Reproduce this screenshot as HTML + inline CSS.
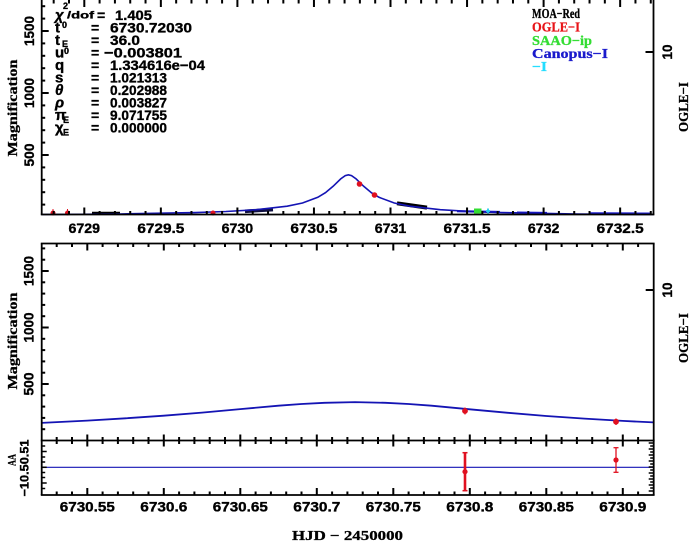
<!DOCTYPE html>
<html><head><meta charset="utf-8"><style>
html,body{margin:0;padding:0;background:#fff;}
svg{display:block;}
.s{font-family:"Liberation Sans",sans-serif;font-weight:bold;fill:#000;stroke:#000;stroke-width:0.35;}
.r{font-family:"Liberation Serif",serif;font-weight:bold;}
</style></head><body>
<svg width="689" height="542" viewBox="0 0 689 542" xmlns="http://www.w3.org/2000/svg">
<rect width="689" height="542" fill="#fff"/>

<!-- ===== TOP PANEL ===== -->
<line x1="92" y1="213.3" x2="120" y2="213.3" stroke="#000" stroke-width="3.2"/>
<line x1="245" y1="211.3" x2="273" y2="209.6" stroke="#101040" stroke-width="3.6"/>
<line x1="397" y1="203.3" x2="427" y2="207.6" stroke="#000" stroke-width="4"/>
<line x1="457" y1="211.2" x2="500" y2="212" stroke="#1a1acc" stroke-width="2.2"/>
<line x1="517" y1="212.6" x2="547" y2="213" stroke="#1a1acc" stroke-width="2.2"/>
<line x1="590" y1="213.3" x2="650" y2="213.5" stroke="#1a1acc" stroke-width="2.2"/>
<polyline fill="none" stroke="#1414b4" stroke-width="1.6" points="41.7,214.5 118.75,214 195.3,212.6 225.9,211.5 256.5,209.7 287.2,206.2 302.5,203 317.8,197.3 325.4,192.7 333.1,186.3 340.7,178.9 345.3,175.6 348.4,174.8 351.5,175.6 356.1,178.9 363.7,186.3 371.4,192.7 379,197.3 394.3,203 409.6,206.2 440.3,209.7 470.9,211.5 501.5,212.6 578,214 639.3,214.5 653.5,214.5"/>
<g fill="#e01020" stroke="#e01020" stroke-width="1">
<circle cx="53" cy="213" r="2"/><line x1="53" y1="209" x2="53" y2="214"/>
<circle cx="67.5" cy="213" r="2"/><line x1="67.5" y1="209" x2="67.5" y2="214"/>
<circle cx="213" cy="213" r="2"/>
<circle cx="359.5" cy="184" r="2.3"/>
<circle cx="374.5" cy="195" r="2.3"/>
</g>
<rect x="474" y="208.5" width="7.5" height="5" fill="#33dd33"/>
<line x1="488" y1="208.5" x2="488" y2="213.5" stroke="#22ccee" stroke-width="1.8"/>
<line x1="486" y1="211" x2="490" y2="211" stroke="#22ccee" stroke-width="1.8"/>

<line x1="41.7" y1="0" x2="41.7" y2="214.5" stroke="#000" stroke-width="1.8"/>
<line x1="653.5" y1="0" x2="653.5" y2="214.5" stroke="#000" stroke-width="1.8"/>
<line x1="40.8" y1="214.5" x2="654.4" y2="214.5" stroke="#000" stroke-width="1.8"/>

<g stroke="#000" stroke-width="2">
<!-- top axis ticks -->
<line x1="84.3" y1="0" x2="84.3" y2="7"/><line x1="160.85" y1="0" x2="160.85" y2="7"/><line x1="237.4" y1="0" x2="237.4" y2="7"/><line x1="313.95" y1="0" x2="313.95" y2="7"/><line x1="390.5" y1="0" x2="390.5" y2="7"/><line x1="467.05" y1="0" x2="467.05" y2="7"/><line x1="543.6" y1="0" x2="543.6" y2="7"/><line x1="620.15" y1="0" x2="620.15" y2="7"/>
<line x1="53.68" y1="0" x2="53.68" y2="3.5"/><line x1="68.99" y1="0" x2="68.99" y2="3.5"/><line x1="99.61" y1="0" x2="99.61" y2="3.5"/><line x1="114.92" y1="0" x2="114.92" y2="3.5"/><line x1="130.23" y1="0" x2="130.23" y2="3.5"/><line x1="145.54" y1="0" x2="145.54" y2="3.5"/><line x1="176.16" y1="0" x2="176.16" y2="3.5"/><line x1="191.47" y1="0" x2="191.47" y2="3.5"/><line x1="206.78" y1="0" x2="206.78" y2="3.5"/><line x1="222.09" y1="0" x2="222.09" y2="3.5"/><line x1="252.71" y1="0" x2="252.71" y2="3.5"/><line x1="268.02" y1="0" x2="268.02" y2="3.5"/><line x1="283.33" y1="0" x2="283.33" y2="3.5"/><line x1="298.64" y1="0" x2="298.64" y2="3.5"/><line x1="329.26" y1="0" x2="329.26" y2="3.5"/><line x1="344.57" y1="0" x2="344.57" y2="3.5"/><line x1="359.88" y1="0" x2="359.88" y2="3.5"/><line x1="375.19" y1="0" x2="375.19" y2="3.5"/><line x1="405.81" y1="0" x2="405.81" y2="3.5"/><line x1="421.12" y1="0" x2="421.12" y2="3.5"/><line x1="436.43" y1="0" x2="436.43" y2="3.5"/><line x1="451.74" y1="0" x2="451.74" y2="3.5"/><line x1="482.36" y1="0" x2="482.36" y2="3.5"/><line x1="497.67" y1="0" x2="497.67" y2="3.5"/><line x1="512.98" y1="0" x2="512.98" y2="3.5"/><line x1="528.29" y1="0" x2="528.29" y2="3.5"/><line x1="558.91" y1="0" x2="558.91" y2="3.5"/><line x1="574.22" y1="0" x2="574.22" y2="3.5"/><line x1="589.53" y1="0" x2="589.53" y2="3.5"/><line x1="604.84" y1="0" x2="604.84" y2="3.5"/><line x1="635.46" y1="0" x2="635.46" y2="3.5"/><line x1="650.77" y1="0" x2="650.77" y2="3.5"/>
<!-- top panel bottom axis ticks -->
<line x1="84.3" y1="214.5" x2="84.3" y2="207.5"/><line x1="160.85" y1="214.5" x2="160.85" y2="207.5"/><line x1="237.4" y1="214.5" x2="237.4" y2="207.5"/><line x1="313.95" y1="214.5" x2="313.95" y2="207.5"/><line x1="390.5" y1="214.5" x2="390.5" y2="207.5"/><line x1="467.05" y1="214.5" x2="467.05" y2="207.5"/><line x1="543.6" y1="214.5" x2="543.6" y2="207.5"/><line x1="620.15" y1="214.5" x2="620.15" y2="207.5"/>
<line x1="53.68" y1="214.5" x2="53.68" y2="211"/><line x1="68.99" y1="214.5" x2="68.99" y2="211"/><line x1="99.61" y1="214.5" x2="99.61" y2="211"/><line x1="114.92" y1="214.5" x2="114.92" y2="211"/><line x1="130.23" y1="214.5" x2="130.23" y2="211"/><line x1="145.54" y1="214.5" x2="145.54" y2="211"/><line x1="176.16" y1="214.5" x2="176.16" y2="211"/><line x1="191.47" y1="214.5" x2="191.47" y2="211"/><line x1="206.78" y1="214.5" x2="206.78" y2="211"/><line x1="222.09" y1="214.5" x2="222.09" y2="211"/><line x1="252.71" y1="214.5" x2="252.71" y2="211"/><line x1="268.02" y1="214.5" x2="268.02" y2="211"/><line x1="283.33" y1="214.5" x2="283.33" y2="211"/><line x1="298.64" y1="214.5" x2="298.64" y2="211"/><line x1="329.26" y1="214.5" x2="329.26" y2="211"/><line x1="344.57" y1="214.5" x2="344.57" y2="211"/><line x1="359.88" y1="214.5" x2="359.88" y2="211"/><line x1="375.19" y1="214.5" x2="375.19" y2="211"/><line x1="405.81" y1="214.5" x2="405.81" y2="211"/><line x1="421.12" y1="214.5" x2="421.12" y2="211"/><line x1="436.43" y1="214.5" x2="436.43" y2="211"/><line x1="451.74" y1="214.5" x2="451.74" y2="211"/><line x1="482.36" y1="214.5" x2="482.36" y2="211"/><line x1="497.67" y1="214.5" x2="497.67" y2="211"/><line x1="512.98" y1="214.5" x2="512.98" y2="211"/><line x1="528.29" y1="214.5" x2="528.29" y2="211"/><line x1="558.91" y1="214.5" x2="558.91" y2="211"/><line x1="574.22" y1="214.5" x2="574.22" y2="211"/><line x1="589.53" y1="214.5" x2="589.53" y2="211"/><line x1="604.84" y1="214.5" x2="604.84" y2="211"/><line x1="635.46" y1="214.5" x2="635.46" y2="211"/><line x1="650.77" y1="214.5" x2="650.77" y2="211"/>
<!-- top panel y ticks -->
<line x1="41.7" y1="155" x2="48.7" y2="155"/><line x1="41.7" y1="93" x2="48.7" y2="93"/><line x1="41.7" y1="31" x2="48.7" y2="31"/>
<line x1="41.7" y1="204.6" x2="45.2" y2="204.6"/><line x1="41.7" y1="192.2" x2="45.2" y2="192.2"/><line x1="41.7" y1="179.8" x2="45.2" y2="179.8"/><line x1="41.7" y1="167.4" x2="45.2" y2="167.4"/><line x1="41.7" y1="142.6" x2="45.2" y2="142.6"/><line x1="41.7" y1="130.2" x2="45.2" y2="130.2"/><line x1="41.7" y1="117.8" x2="45.2" y2="117.8"/><line x1="41.7" y1="105.4" x2="45.2" y2="105.4"/><line x1="41.7" y1="80.6" x2="45.2" y2="80.6"/><line x1="41.7" y1="68.2" x2="45.2" y2="68.2"/><line x1="41.7" y1="55.8" x2="45.2" y2="55.8"/><line x1="41.7" y1="43.4" x2="45.2" y2="43.4"/><line x1="41.7" y1="18.6" x2="45.2" y2="18.6"/><line x1="41.7" y1="6.2" x2="45.2" y2="6.2"/>
<line x1="653.5" y1="52" x2="645.5" y2="52"/>
</g>

<g class="s" font-size="13.5" text-anchor="middle">
<text x="84.3" y="233" textLength="31.5" lengthAdjust="spacingAndGlyphs">6729</text>
<text x="160.85" y="233" textLength="47" lengthAdjust="spacingAndGlyphs">6729.5</text>
<text x="237.4" y="233" textLength="31.5" lengthAdjust="spacingAndGlyphs">6730</text>
<text x="313.95" y="233" textLength="47" lengthAdjust="spacingAndGlyphs">6730.5</text>
<text x="390.5" y="233" textLength="31.5" lengthAdjust="spacingAndGlyphs">6731</text>
<text x="467.05" y="233" textLength="47" lengthAdjust="spacingAndGlyphs">6731.5</text>
<text x="543.6" y="233" textLength="31.5" lengthAdjust="spacingAndGlyphs">6732</text>
<text x="620.15" y="233" textLength="47" lengthAdjust="spacingAndGlyphs">6732.5</text>
</g>
<g class="s" font-size="13.5" text-anchor="middle">
<text transform="translate(34,155) rotate(-90)" textLength="23" lengthAdjust="spacingAndGlyphs">500</text>
<text transform="translate(34,93) rotate(-90)" textLength="30" lengthAdjust="spacingAndGlyphs">1000</text>
<text transform="translate(34,31) rotate(-90)" textLength="30" lengthAdjust="spacingAndGlyphs">1500</text>
<text transform="translate(672,52) rotate(-90)" textLength="15" lengthAdjust="spacingAndGlyphs">10</text>
</g>
<text class="r" font-size="14" text-anchor="middle" transform="translate(17,108) rotate(-90)" textLength="97" lengthAdjust="spacingAndGlyphs" stroke="#000" stroke-width="0.3">Magnification</text>
<text class="r" font-size="14" text-anchor="middle" transform="translate(688,107) rotate(-90)" textLength="50" lengthAdjust="spacingAndGlyphs" stroke="#000" stroke-width="0.3">OGLE−I</text>

<g class="s">
<text x="55" y="20" font-size="15" font-style="italic">χ</text>
<text x="63" y="9" font-size="9">2</text>
<text x="67" y="18.5" font-size="10" textLength="27" lengthAdjust="spacingAndGlyphs">/dof</text>
<text x="97" y="20" font-size="14">=</text>
<text x="115" y="20" font-size="14" textLength="37" lengthAdjust="spacingAndGlyphs">1.405</text>

<text x="55" y="32.5" font-size="15">t</text><text x="62" y="28" font-size="9">0</text>
<text x="91" y="32.5" font-size="14">=</text>
<text x="110" y="32.5" font-size="14" textLength="82" lengthAdjust="spacingAndGlyphs">6730.72030</text>

<text x="55" y="45" font-size="15">t</text><text x="62" y="47" font-size="9">E</text>
<text x="91" y="45" font-size="14">=</text>
<text x="110" y="45" font-size="14" textLength="30" lengthAdjust="spacingAndGlyphs">36.0</text>

<text x="55" y="57.5" font-size="15">u</text><text x="64" y="54" font-size="9">0</text>
<text x="91" y="57.5" font-size="14">=</text>
<text x="104" y="57.5" font-size="14" textLength="78" lengthAdjust="spacingAndGlyphs">−0.003801</text>

<text x="55" y="70" font-size="15">q</text>
<text x="91" y="70" font-size="14">=</text>
<text x="110" y="70" font-size="14" textLength="95" lengthAdjust="spacingAndGlyphs">1.334616e−04</text>

<text x="55" y="82.5" font-size="15">s</text>
<text x="91" y="82.5" font-size="14">=</text>
<text x="110" y="82.5" font-size="14" textLength="57" lengthAdjust="spacingAndGlyphs">1.021313</text>

<text x="55" y="95" font-size="15" font-style="italic">θ</text>
<text x="91" y="95" font-size="14">=</text>
<text x="110" y="95" font-size="14" textLength="57" lengthAdjust="spacingAndGlyphs">0.202988</text>

<text x="55" y="107.5" font-size="15" font-style="italic">ρ</text>
<text x="91" y="107.5" font-size="14">=</text>
<text x="110" y="107.5" font-size="14" textLength="57" lengthAdjust="spacingAndGlyphs">0.003827</text>

<text x="55" y="120" font-size="15">π</text><text x="63" y="123" font-size="9">E</text>
<text x="91" y="120" font-size="14">=</text>
<text x="110" y="120" font-size="14" textLength="57" lengthAdjust="spacingAndGlyphs">9.071755</text>

<text x="55" y="132.5" font-size="15">χ</text><text x="63" y="135.5" font-size="9">E</text>
<text x="91" y="132.5" font-size="14">=</text>
<text x="110" y="132.5" font-size="14" textLength="57" lengthAdjust="spacingAndGlyphs">0.000000</text>
</g>

<g class="r" font-size="14" stroke-width="0.3">
<text x="532" y="18" fill="#000" stroke="#000" textLength="48" lengthAdjust="spacingAndGlyphs">MOA−Red</text>
<text x="532" y="31.5" fill="#e81418" stroke="#e81418" textLength="48" lengthAdjust="spacingAndGlyphs">OGLE−I</text>
<text x="532" y="45" fill="#33dd33" stroke="#33dd33" textLength="60" lengthAdjust="spacingAndGlyphs">SAAO−ip</text>
<text x="532" y="58" fill="#1a1acc" stroke="#1a1acc" textLength="76" lengthAdjust="spacingAndGlyphs">Canopus−I</text>
<text x="532" y="71" fill="#22ddff" stroke="#22ddff" textLength="15" lengthAdjust="spacingAndGlyphs">−I</text>
</g>

<!-- ===== BOTTOM PANEL ===== -->
<polyline fill="none" stroke="#1414b4" stroke-width="1.8" points="41.7,422.9 87.25,420.6 125.5,418.3 163.75,415.7 202,412.6 240.25,409.1 278.5,405.7 301.45,404 324.4,402.8 355,402.1 385.6,402.8 408.55,404 431.5,405.7 469.75,409.3 508,412.8 546.25,416 584.5,418.6 622.75,420.9 653.5,422.4"/>
<g fill="#e01020" stroke="#e01020" stroke-width="1.2">
<circle cx="465" cy="411" r="2.3"/><line x1="465" y1="407.5" x2="465" y2="414.5"/>
<circle cx="616" cy="421.7" r="2.3"/><line x1="616" y1="418.5" x2="616" y2="425"/>
</g>
<line x1="467.3" y1="0" x2="0" y2="0" stroke="none"/>
<line x1="41.7" y1="467.3" x2="653.7" y2="467.3" stroke="#1414b4" stroke-width="1.2"/>

<g stroke="#000" stroke-width="1.8">
<line x1="40.8" y1="243.5" x2="654.6" y2="243.5"/>
<line x1="41.7" y1="243.5" x2="41.7" y2="495"/>
<line x1="653.7" y1="243.5" x2="653.7" y2="495"/>
<line x1="40.8" y1="440.5" x2="654.6" y2="440.5"/>
<line x1="40.8" y1="495" x2="654.6" y2="495"/>
</g>

<g stroke="#000" stroke-width="2">
<!-- bottom panel top ticks -->
<line x1="87.3" y1="243.5" x2="87.3" y2="250.5"/><line x1="163.8" y1="243.5" x2="163.8" y2="250.5"/><line x1="240.3" y1="243.5" x2="240.3" y2="250.5"/><line x1="316.8" y1="243.5" x2="316.8" y2="250.5"/><line x1="393.3" y1="243.5" x2="393.3" y2="250.5"/><line x1="469.8" y1="243.5" x2="469.8" y2="250.5"/><line x1="546.3" y1="243.5" x2="546.3" y2="250.5"/><line x1="622.8" y1="243.5" x2="622.8" y2="250.5"/>
<line x1="56.7" y1="243.5" x2="56.7" y2="247"/><line x1="72" y1="243.5" x2="72" y2="247"/><line x1="102.6" y1="243.5" x2="102.6" y2="247"/><line x1="117.9" y1="243.5" x2="117.9" y2="247"/><line x1="133.2" y1="243.5" x2="133.2" y2="247"/><line x1="148.5" y1="243.5" x2="148.5" y2="247"/><line x1="179.1" y1="243.5" x2="179.1" y2="247"/><line x1="194.4" y1="243.5" x2="194.4" y2="247"/><line x1="209.7" y1="243.5" x2="209.7" y2="247"/><line x1="225" y1="243.5" x2="225" y2="247"/><line x1="255.6" y1="243.5" x2="255.6" y2="247"/><line x1="270.9" y1="243.5" x2="270.9" y2="247"/><line x1="286.2" y1="243.5" x2="286.2" y2="247"/><line x1="301.5" y1="243.5" x2="301.5" y2="247"/><line x1="332.1" y1="243.5" x2="332.1" y2="247"/><line x1="347.4" y1="243.5" x2="347.4" y2="247"/><line x1="362.7" y1="243.5" x2="362.7" y2="247"/><line x1="378" y1="243.5" x2="378" y2="247"/><line x1="408.6" y1="243.5" x2="408.6" y2="247"/><line x1="423.9" y1="243.5" x2="423.9" y2="247"/><line x1="439.2" y1="243.5" x2="439.2" y2="247"/><line x1="454.5" y1="243.5" x2="454.5" y2="247"/><line x1="485.1" y1="243.5" x2="485.1" y2="247"/><line x1="500.4" y1="243.5" x2="500.4" y2="247"/><line x1="515.7" y1="243.5" x2="515.7" y2="247"/><line x1="531" y1="243.5" x2="531" y2="247"/><line x1="561.6" y1="243.5" x2="561.6" y2="247"/><line x1="576.9" y1="243.5" x2="576.9" y2="247"/><line x1="592.2" y1="243.5" x2="592.2" y2="247"/><line x1="607.5" y1="243.5" x2="607.5" y2="247"/><line x1="638.1" y1="243.5" x2="638.1" y2="247"/>
<!-- shared axis ticks -->
<line x1="87.3" y1="434.5" x2="87.3" y2="446.5"/><line x1="163.8" y1="434.5" x2="163.8" y2="446.5"/><line x1="240.3" y1="434.5" x2="240.3" y2="446.5"/><line x1="316.8" y1="434.5" x2="316.8" y2="446.5"/><line x1="393.3" y1="434.5" x2="393.3" y2="446.5"/><line x1="469.8" y1="434.5" x2="469.8" y2="446.5"/><line x1="546.3" y1="434.5" x2="546.3" y2="446.5"/><line x1="622.8" y1="434.5" x2="622.8" y2="446.5"/>
<line x1="56.7" y1="437" x2="56.7" y2="444"/><line x1="72" y1="437" x2="72" y2="444"/><line x1="102.6" y1="437" x2="102.6" y2="444"/><line x1="117.9" y1="437" x2="117.9" y2="444"/><line x1="133.2" y1="437" x2="133.2" y2="444"/><line x1="148.5" y1="437" x2="148.5" y2="444"/><line x1="179.1" y1="437" x2="179.1" y2="444"/><line x1="194.4" y1="437" x2="194.4" y2="444"/><line x1="209.7" y1="437" x2="209.7" y2="444"/><line x1="225" y1="437" x2="225" y2="444"/><line x1="255.6" y1="437" x2="255.6" y2="444"/><line x1="270.9" y1="437" x2="270.9" y2="444"/><line x1="286.2" y1="437" x2="286.2" y2="444"/><line x1="301.5" y1="437" x2="301.5" y2="444"/><line x1="332.1" y1="437" x2="332.1" y2="444"/><line x1="347.4" y1="437" x2="347.4" y2="444"/><line x1="362.7" y1="437" x2="362.7" y2="444"/><line x1="378" y1="437" x2="378" y2="444"/><line x1="408.6" y1="437" x2="408.6" y2="444"/><line x1="423.9" y1="437" x2="423.9" y2="444"/><line x1="439.2" y1="437" x2="439.2" y2="444"/><line x1="454.5" y1="437" x2="454.5" y2="444"/><line x1="485.1" y1="437" x2="485.1" y2="444"/><line x1="500.4" y1="437" x2="500.4" y2="444"/><line x1="515.7" y1="437" x2="515.7" y2="444"/><line x1="531" y1="437" x2="531" y2="444"/><line x1="561.6" y1="437" x2="561.6" y2="444"/><line x1="576.9" y1="437" x2="576.9" y2="444"/><line x1="592.2" y1="437" x2="592.2" y2="444"/><line x1="607.5" y1="437" x2="607.5" y2="444"/><line x1="638.1" y1="437" x2="638.1" y2="444"/>
<!-- residual bottom ticks -->
<line x1="87.3" y1="495" x2="87.3" y2="488"/><line x1="163.8" y1="495" x2="163.8" y2="488"/><line x1="240.3" y1="495" x2="240.3" y2="488"/><line x1="316.8" y1="495" x2="316.8" y2="488"/><line x1="393.3" y1="495" x2="393.3" y2="488"/><line x1="469.8" y1="495" x2="469.8" y2="488"/><line x1="546.3" y1="495" x2="546.3" y2="488"/><line x1="622.8" y1="495" x2="622.8" y2="488"/>
<line x1="56.7" y1="495" x2="56.7" y2="491.5"/><line x1="72" y1="495" x2="72" y2="491.5"/><line x1="102.6" y1="495" x2="102.6" y2="491.5"/><line x1="117.9" y1="495" x2="117.9" y2="491.5"/><line x1="133.2" y1="495" x2="133.2" y2="491.5"/><line x1="148.5" y1="495" x2="148.5" y2="491.5"/><line x1="179.1" y1="495" x2="179.1" y2="491.5"/><line x1="194.4" y1="495" x2="194.4" y2="491.5"/><line x1="209.7" y1="495" x2="209.7" y2="491.5"/><line x1="225" y1="495" x2="225" y2="491.5"/><line x1="255.6" y1="495" x2="255.6" y2="491.5"/><line x1="270.9" y1="495" x2="270.9" y2="491.5"/><line x1="286.2" y1="495" x2="286.2" y2="491.5"/><line x1="301.5" y1="495" x2="301.5" y2="491.5"/><line x1="332.1" y1="495" x2="332.1" y2="491.5"/><line x1="347.4" y1="495" x2="347.4" y2="491.5"/><line x1="362.7" y1="495" x2="362.7" y2="491.5"/><line x1="378" y1="495" x2="378" y2="491.5"/><line x1="408.6" y1="495" x2="408.6" y2="491.5"/><line x1="423.9" y1="495" x2="423.9" y2="491.5"/><line x1="439.2" y1="495" x2="439.2" y2="491.5"/><line x1="454.5" y1="495" x2="454.5" y2="491.5"/><line x1="485.1" y1="495" x2="485.1" y2="491.5"/><line x1="500.4" y1="495" x2="500.4" y2="491.5"/><line x1="515.7" y1="495" x2="515.7" y2="491.5"/><line x1="531" y1="495" x2="531" y2="491.5"/><line x1="561.6" y1="495" x2="561.6" y2="491.5"/><line x1="576.9" y1="495" x2="576.9" y2="491.5"/><line x1="592.2" y1="495" x2="592.2" y2="491.5"/><line x1="607.5" y1="495" x2="607.5" y2="491.5"/><line x1="638.1" y1="495" x2="638.1" y2="491.5"/>
<!-- bottom panel y ticks -->
<line x1="41.7" y1="384" x2="48.7" y2="384"/><line x1="41.7" y1="327.5" x2="48.7" y2="327.5"/><line x1="41.7" y1="271" x2="48.7" y2="271"/>
<line x1="41.7" y1="429.2" x2="45.2" y2="429.2"/><line x1="41.7" y1="417.9" x2="45.2" y2="417.9"/><line x1="41.7" y1="406.6" x2="45.2" y2="406.6"/><line x1="41.7" y1="395.3" x2="45.2" y2="395.3"/><line x1="41.7" y1="372.7" x2="45.2" y2="372.7"/><line x1="41.7" y1="361.4" x2="45.2" y2="361.4"/><line x1="41.7" y1="350.1" x2="45.2" y2="350.1"/><line x1="41.7" y1="338.8" x2="45.2" y2="338.8"/><line x1="41.7" y1="316.2" x2="45.2" y2="316.2"/><line x1="41.7" y1="304.9" x2="45.2" y2="304.9"/><line x1="41.7" y1="293.6" x2="45.2" y2="293.6"/><line x1="41.7" y1="282.3" x2="45.2" y2="282.3"/><line x1="41.7" y1="259.7" x2="45.2" y2="259.7"/><line x1="41.7" y1="248.4" x2="45.2" y2="248.4"/>
<line x1="653.7" y1="290" x2="645.7" y2="290"/>
</g>
<g stroke="#000" stroke-width="1.5">
<line x1="41.7" y1="446" x2="45.2" y2="446"/><line x1="41.7" y1="451.5" x2="46.7" y2="451.5"/><line x1="41.7" y1="457" x2="45.2" y2="457"/><line x1="41.7" y1="462" x2="45.2" y2="462"/><line x1="41.7" y1="467.3" x2="46.7" y2="467.3"/><line x1="41.7" y1="472.5" x2="45.2" y2="472.5"/><line x1="41.7" y1="477.5" x2="45.2" y2="477.5"/><line x1="41.7" y1="483" x2="46.7" y2="483"/><line x1="41.7" y1="488.5" x2="45.2" y2="488.5"/>
<line x1="653.7" y1="443" x2="648.7" y2="443"/><line x1="653.7" y1="446" x2="650.2" y2="446"/><line x1="653.7" y1="449" x2="648.7" y2="449"/><line x1="653.7" y1="452" x2="650.2" y2="452"/><line x1="653.7" y1="455" x2="648.7" y2="455"/><line x1="653.7" y1="458" x2="650.2" y2="458"/><line x1="653.7" y1="461" x2="648.7" y2="461"/><line x1="653.7" y1="464" x2="650.2" y2="464"/><line x1="653.7" y1="467" x2="648.7" y2="467"/><line x1="653.7" y1="470" x2="650.2" y2="470"/><line x1="653.7" y1="473" x2="648.7" y2="473"/><line x1="653.7" y1="476" x2="650.2" y2="476"/><line x1="653.7" y1="479" x2="648.7" y2="479"/><line x1="653.7" y1="482" x2="650.2" y2="482"/><line x1="653.7" y1="485" x2="648.7" y2="485"/><line x1="653.7" y1="488" x2="650.2" y2="488"/><line x1="653.7" y1="491" x2="648.7" y2="491"/>
</g>

<g class="s" font-size="13.5" text-anchor="middle">
<text transform="translate(33.5,384) rotate(-90)" textLength="23" lengthAdjust="spacingAndGlyphs">500</text>
<text transform="translate(33.5,327.5) rotate(-90)" textLength="30" lengthAdjust="spacingAndGlyphs">1000</text>
<text transform="translate(33.5,271) rotate(-90)" textLength="30" lengthAdjust="spacingAndGlyphs">1500</text>
<text transform="translate(672,290) rotate(-90)" textLength="15" lengthAdjust="spacingAndGlyphs">10</text>
</g>
<text class="r" font-size="14" text-anchor="middle" transform="translate(17,341) rotate(-90)" textLength="97" lengthAdjust="spacingAndGlyphs" stroke="#000" stroke-width="0.3">Magnification</text>
<text class="r" font-size="14" text-anchor="middle" transform="translate(688,338) rotate(-90)" textLength="50" lengthAdjust="spacingAndGlyphs" stroke="#000" stroke-width="0.3">OGLE−I</text>

<g stroke="#e01020" fill="#e01020">
<line x1="465" y1="452.7" x2="465" y2="490.7" stroke-width="2.6"/>
<line x1="462.5" y1="452.7" x2="467.5" y2="452.7" stroke-width="1.5"/>
<line x1="462.5" y1="490.7" x2="467.5" y2="490.7" stroke-width="1.5"/>
<circle cx="465" cy="471.7" r="2.6" stroke="none"/>
<line x1="616" y1="447.7" x2="616" y2="472.3" stroke-width="1.3"/>
<line x1="613.5" y1="447.7" x2="618.5" y2="447.7" stroke-width="1.3"/>
<line x1="613.5" y1="472.3" x2="618.5" y2="472.3" stroke-width="1.3"/>
<circle cx="616" cy="460" r="2.6" stroke="none"/>
</g>
<text class="r" font-size="12" text-anchor="middle" transform="translate(15.5,460) rotate(-90)" textLength="12" lengthAdjust="spacingAndGlyphs" stroke="#000" stroke-width="0.3">AA</text>
<text class="s" font-size="12" text-anchor="middle" transform="translate(28.5,468) rotate(-90)" textLength="57" lengthAdjust="spacingAndGlyphs">−10.50.51</text>

<g class="s" font-size="13.5" text-anchor="middle">
<text x="87.3" y="511.5" textLength="55" lengthAdjust="spacingAndGlyphs">6730.55</text>
<text x="163.8" y="511.5" textLength="47" lengthAdjust="spacingAndGlyphs">6730.6</text>
<text x="240.3" y="511.5" textLength="55" lengthAdjust="spacingAndGlyphs">6730.65</text>
<text x="316.8" y="511.5" textLength="47" lengthAdjust="spacingAndGlyphs">6730.7</text>
<text x="393.3" y="511.5" textLength="55" lengthAdjust="spacingAndGlyphs">6730.75</text>
<text x="469.8" y="511.5" textLength="47" lengthAdjust="spacingAndGlyphs">6730.8</text>
<text x="546.3" y="511.5" textLength="55" lengthAdjust="spacingAndGlyphs">6730.85</text>
<text x="622.8" y="511.5" textLength="47" lengthAdjust="spacingAndGlyphs">6730.9</text>
</g>
<text class="r" font-size="14" x="347.5" y="540" text-anchor="middle" textLength="111" lengthAdjust="spacingAndGlyphs" stroke="#000" stroke-width="0.3">HJD − 2450000</text>
</svg>
</body></html>
